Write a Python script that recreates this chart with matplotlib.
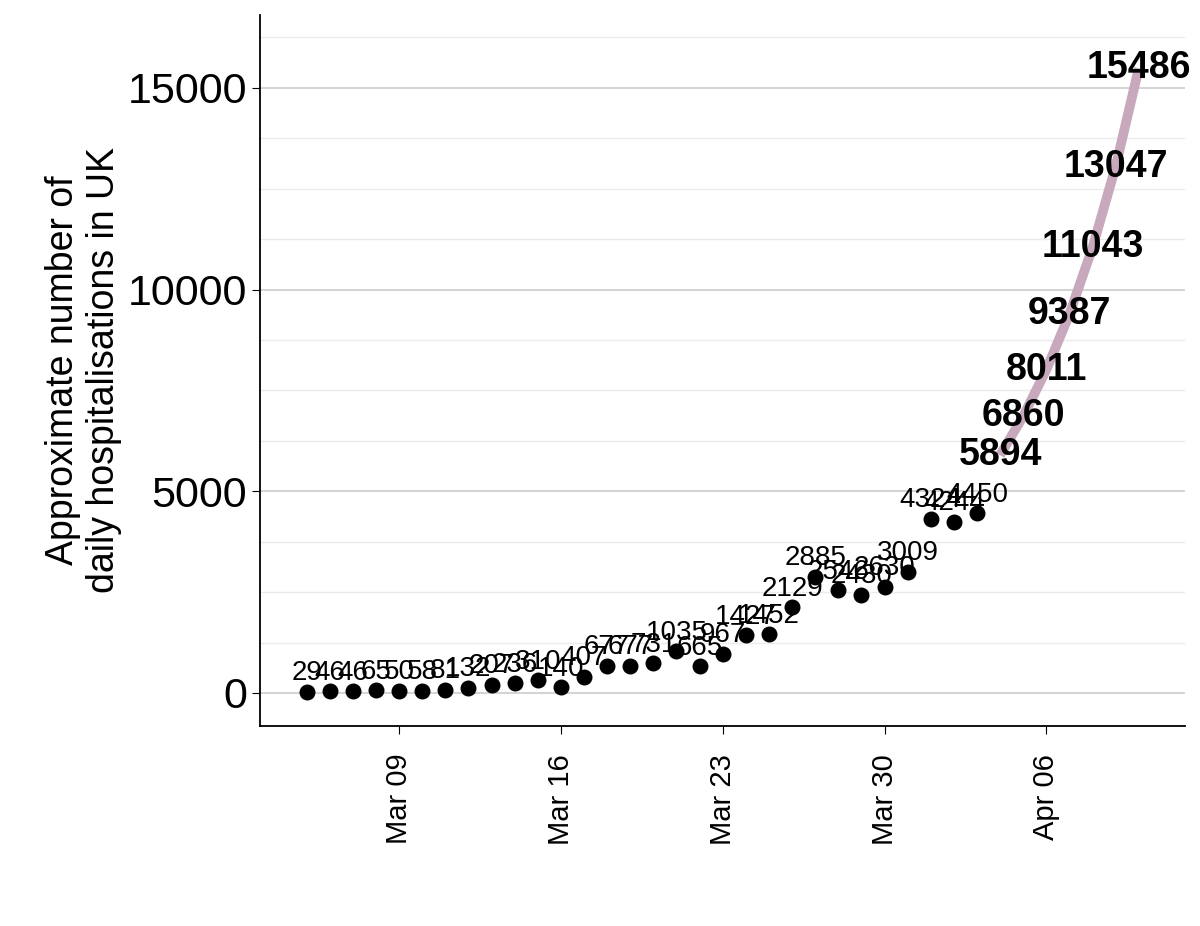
import matplotlib
matplotlib.use("Agg")
import matplotlib.pyplot as plt
import numpy as np
import datetime as dt

obs_start = "2020-03-05"
obs_values = [29, 46, 46, 65, 50, 58, 81, 132, 207, 236, 310, 140, 407, 677, 677, 731,
              1035, 665, 967, 1427, 1452, 2129, 2885, 2546, 2430, 2630, 3009, 4324, 4244, 4450]
proj_start = "2020-04-04"
proj_values = [5894, 6860, 8011, 9387, 11043, 13047, 15486]
tick_dates = ["2020-03-09", "2020-03-16", "2020-03-23", "2020-03-30", "2020-04-06"]
tick_labels = ['Mar 09', 'Mar 16', 'Mar 23', 'Mar 30', 'Apr 06']

plt.rcParams['font.family'] = ['Liberation Sans', 'DejaVu Sans']
fig = plt.figure(figsize=(12, 9.26), dpi=100)
ax = fig.add_axes([0.217, 0.216, 0.7705, 0.768])

d0 = np.datetime64(obs_start)
od = (d0 + np.arange(len(obs_values))).astype('datetime64[D]').astype(object)
p0 = np.datetime64(proj_start)
pd_ = (p0 + np.arange(len(proj_values))).astype('datetime64[D]').astype(object)

for v in np.arange(0, 17000, 1250):
    ax.axhline(v, color='#ebebeb' if v % 5000 else '#cccccc', lw=1.0 if v % 5000 else 1.2, zorder=0)

ax.plot(pd_, proj_values, color='#c8a8bc', lw=7, solid_capstyle='butt', zorder=2)
ax.scatter(od, obs_values, s=110, color='black', zorder=3)
for x, v in zip(od, obs_values):
    ax.annotate(str(v), (x, v), xytext=(0, 4), textcoords='offset points',
                ha='center', va='bottom', fontsize=20, zorder=4)
for x, v in zip(pd_, proj_values):
    ax.text(x, v, str(v), ha='center', va='center', fontsize=27, fontweight='bold', zorder=4)

ax.set_ylim(-818, 16810)
start = dt.date(2020, 3, 5)
ax.set_xlim(start - dt.timedelta(days=2.2), start + dt.timedelta(days=38.5))
ax.set_yticks([0, 5000, 10000, 15000])
ax.set_xticks([dt.date.fromisoformat(t) for t in tick_dates])
ax.set_xticklabels(tick_labels, rotation=90)
ax.tick_params(axis='y', labelsize=31, length=6)
ax.tick_params(axis='x', labelsize=21, length=6, pad=14)
for s in ['top', 'right']:
    ax.spines[s].set_visible(False)
for s in ['left', 'bottom']:
    ax.spines[s].set_linewidth(1.3)
ax.set_ylabel('Approximate number of\ndaily hospitalisations in UK', fontsize=27)
fig.savefig('out.png', dpi=100, facecolor='white')
